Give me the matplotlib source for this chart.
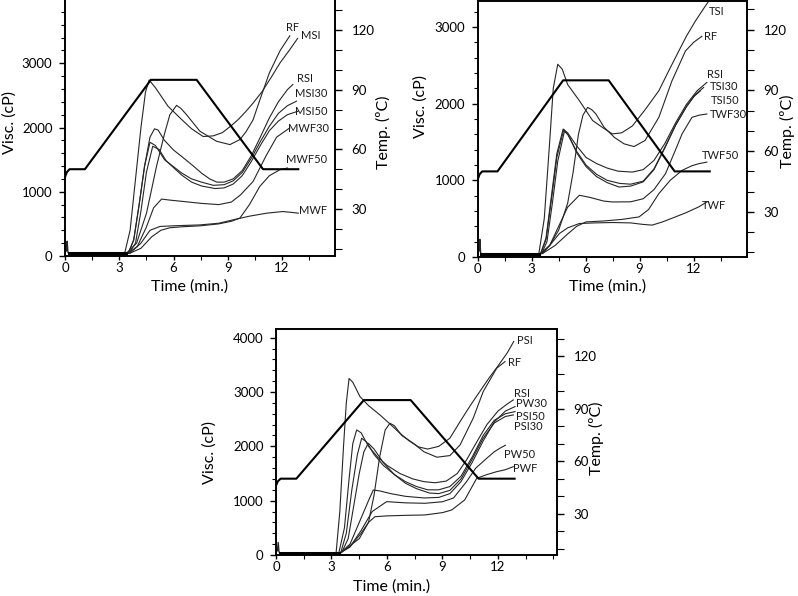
import matplotlib
matplotlib.use("Agg")
import matplotlib.pyplot as plt
from matplotlib.ticker import MultipleLocator

plt.rcParams['font.family'] = ['Lato', 'DejaVu Sans']

# ---------------- temperature profile (shared) ----------------
temp_t = [0, 0.1, 0.25, 1.1, 4.75, 7.28, 10.95, 12.9]
temp_v = [46, 48.5, 50, 50, 95, 95, 50, 50]

# ---------------- Panel 1 (M series) ----------------
p1_names = ["MSI", "RF", "RSI", "MSI30", "MSI50", "MWF30", "MWF50", "MWF"]
p1_msi_t = [0.2, 3.3, 3.6, 3.9, 4.2, 4.45, 4.65, 5.0, 5.7, 6.45, 7.0, 7.64, 8.2, 8.7, 9.2, 9.6, 10.0, 10.4, 10.9, 11.4, 11.9, 12.4, 12.86]
p1_msi_v = [40, 45, 400, 1200, 2000, 2550, 2740, 2620, 2330, 2125, 1980, 1860, 1870, 1920, 2030, 2130, 2250, 2380, 2560, 2780, 3010, 3200, 3386]
p1_rf_t = [0.2, 3.4, 3.96, 4.51, 5.06, 5.5, 5.8, 6.17, 6.4, 6.72, 7.46, 8.38, 9.12, 9.67, 10.0, 10.4, 10.8, 11.3, 11.9, 12.43]
p1_rf_v = [40, 45, 200, 670, 1395, 1900, 2200, 2345, 2300, 2200, 1942, 1786, 1734, 1812, 1930, 2120, 2450, 2850, 3200, 3427]
p1_rsi_t = [0.2, 3.5, 3.8, 4.1, 4.4, 4.7, 4.95, 5.15, 5.5, 6.0, 6.45, 7.1, 7.55, 8.0, 8.4, 8.8, 9.3, 9.8, 10.3, 10.8, 11.3, 11.8, 12.3, 12.6]
p1_rsi_v = [40, 45, 250, 800, 1400, 1850, 1980, 1960, 1800, 1650, 1550, 1400, 1290, 1200, 1150, 1150, 1200, 1330, 1560, 1850, 2150, 2400, 2590, 2670]
p1_msi30_t = [0.2, 3.5, 3.8, 4.1, 4.4, 4.7, 5.0, 5.5, 6.45, 7.0, 7.55, 8.2, 8.8, 9.3, 9.8, 10.3, 10.8, 11.3, 11.8, 12.3, 12.8]
p1_msi30_v = [40, 45, 250, 800, 1400, 1770, 1720, 1500, 1292, 1200, 1150, 1100, 1110, 1170, 1300, 1520, 1780, 2020, 2220, 2340, 2410]
p1_msi50_t = [0.2, 3.55, 3.9, 4.2, 4.5, 4.85, 5.2, 5.6, 6.45, 7.0, 7.55, 8.3, 8.8, 9.3, 9.8, 10.3, 10.8, 11.3, 11.8, 12.3, 12.9]
p1_msi50_v = [40, 45, 200, 700, 1300, 1708, 1660, 1480, 1260, 1150, 1090, 1050, 1060, 1120, 1250, 1470, 1720, 1950, 2100, 2200, 2255]
p1_mwf30_t = [0.2, 3.5, 4.0, 4.5, 4.9, 5.34, 5.8, 6.5, 7.5, 8.5, 9.2, 9.7, 10.4, 11.1, 11.7, 12.43]
p1_mwf30_v = [40, 45, 150, 450, 750, 886, 870, 850, 820, 800, 840, 950, 1160, 1550, 1850, 1995]
p1_mwf50_t = [0.2, 3.6, 4.2, 4.8, 5.3, 5.8, 6.5, 7.5, 8.5, 9.2, 9.67, 10.2, 10.77, 11.3, 11.88, 12.3]
p1_mwf50_v = [40, 45, 120, 300, 400, 440, 455, 470, 500, 540, 590, 800, 1083, 1250, 1343, 1370]
p1_mwf_t = [0.2, 3.6, 4.2, 4.7, 5.25, 6.0, 7.46, 8.5, 9.28, 10.2, 11.16, 12.04, 12.5, 12.9]
p1_mwf_v = [40, 45, 200, 400, 460, 470, 484, 510, 562, 620, 667, 692, 680, 667]
p1_lbl_x = [13.6, 12.6, 13.27, 13.64, 13.64, 13.46, 13.37, 13.73]
p1_lbl_y = [3440, 3560, 2766, 2527, 2255, 1980, 1500, 708]

# ---------------- Panel 2 (T series) ----------------
p2_names = ["TSI", "RF", "RSI", "TSI30", "TSI50", "TWF30", "TWF50", "TWF"]
p2_tsi_t = [0.2, 3.4, 3.7, 4.0, 4.2, 4.45, 4.7, 5.0, 5.65, 6.39, 7.0, 7.49, 8.0, 8.6, 9.3, 10.07, 10.6, 11.18, 11.6, 12.1, 12.65, 12.84]
p2_tsi_v = [40, 45, 500, 1500, 2200, 2515, 2450, 2250, 2040, 1780, 1680, 1606, 1620, 1710, 1920, 2169, 2420, 2688, 2880, 3078, 3273, 3337]
p2_rf_t = [0.2, 3.5, 4.0, 4.5, 5.0, 5.3, 5.6, 5.85, 6.11, 6.35, 6.57, 7.03, 7.6, 8.14, 8.69, 9.3, 10.07, 10.8, 11.55, 12.0, 12.46]
p2_rf_v = [40, 45, 150, 350, 700, 1100, 1600, 1850, 1952, 1920, 1866, 1692, 1560, 1476, 1441, 1520, 1822, 2299, 2688, 2800, 2880]
p2_rsi_t = [0.2, 3.5, 3.8, 4.1, 4.4, 4.75, 5.0, 5.5, 6.02, 6.6, 7.2, 7.8, 8.6, 9.2, 9.8, 10.4, 11.0, 11.6, 12.2, 12.74]
p2_rsi_v = [40, 45, 250, 800, 1350, 1670, 1620, 1450, 1300, 1220, 1160, 1120, 1108, 1140, 1260, 1480, 1750, 1990, 2170, 2277]
p2_tsi30_t = [0.2, 3.5, 3.8, 4.1, 4.4, 4.78, 5.0, 5.5, 6.02, 6.6, 7.2, 7.9, 8.5, 9.2, 9.8, 10.4, 11.0, 11.6, 12.1, 12.56]
p2_tsi30_v = [40, 45, 230, 750, 1300, 1660, 1600, 1380, 1200, 1080, 1000, 960, 950, 990, 1150, 1430, 1720, 1960, 2120, 2212]
p2_tsi50_t = [0.2, 3.55, 3.85, 4.15, 4.45, 4.82, 5.05, 5.5, 6.02, 6.6, 7.2, 7.86, 8.5, 9.2, 9.8, 10.4, 11.0, 11.6, 12.0, 12.38]
p2_tsi50_v = [40, 45, 200, 700, 1250, 1640, 1590, 1360, 1180, 1050, 970, 913, 925, 980, 1140, 1420, 1720, 1960, 2090, 2169]
p2_twf30_t = [0.2, 3.5, 4.0, 4.5, 5.0, 5.65, 6.2, 7.0, 7.49, 8.5, 9.2, 9.8, 10.44, 11.0, 11.36, 11.91, 12.3, 12.74]
p2_twf30_v = [40, 45, 150, 400, 650, 805, 780, 730, 718, 720, 760, 880, 1087, 1400, 1606, 1822, 1850, 1866]
p2_twf50_t = [0.2, 3.6, 4.3, 5.0, 5.5, 6.02, 7.0, 8.0, 8.97, 9.5, 10.07, 10.7, 11.36, 11.9, 12.28, 12.74]
p2_twf50_v = [40, 45, 150, 300, 400, 458, 470, 490, 523, 620, 827, 1000, 1130, 1190, 1217, 1238]
p2_twf_t = [0.2, 3.6, 4.0, 4.55, 5.0, 5.65, 6.5, 7.5, 8.5, 9.2, 9.7, 10.3, 10.99, 11.6, 12.28, 12.74]
p2_twf_v = [40, 45, 150, 308, 380, 437, 445, 450, 445, 425, 416, 460, 523, 580, 653, 718]
p2_lbl_x = [13.3, 12.93, 13.2, 13.67, 13.76, 13.95, 13.48, 13.11]
p2_lbl_y = [3208, 2883, 2386, 2221, 2039, 1857, 1325, 675]

# ---------------- Panel 3 (P series) ----------------
p3_names = ["PSI", "RF", "RSI", "PW30", "PSI50", "PSI30", "PW50", "PWF"]
p3_psi_t = [0.2, 3.25, 3.45, 3.65, 3.8, 3.95, 4.15, 4.54, 5.0, 5.62, 6.2, 6.7, 7.2, 7.7, 8.2, 8.8, 9.4, 9.95, 10.5, 11.0, 11.5, 12.0, 12.5, 12.85]
p3_psi_v = [40, 45, 800, 2000, 2800, 3250, 3180, 2916, 2750, 2578, 2400, 2241, 2100, 1990, 1950, 2000, 2150, 2455, 2750, 3000, 3250, 3480, 3720, 3930]
p3_rf_t = [0.2, 3.5, 4.5, 5.0, 5.3, 5.6, 5.9, 6.16, 6.4, 6.8, 7.42, 8.0, 8.7, 9.4, 9.95, 10.66, 11.2, 11.93, 12.38]
p3_rf_v = [40, 45, 300, 600, 1100, 1800, 2300, 2425, 2380, 2200, 2057, 1900, 1800, 1830, 2026, 2518, 3007, 3438, 3560]
p3_rsi_t = [0.2, 3.4, 3.7, 3.95, 4.15, 4.36, 4.6, 5.0, 5.5, 6.0, 6.7, 7.4, 8.0, 8.6, 9.2, 9.8, 10.3, 10.8, 11.4, 12.0, 12.5, 12.83]
p3_rsi_v = [40, 45, 500, 1400, 2050, 2302, 2250, 2000, 1800, 1650, 1500, 1400, 1350, 1330, 1360, 1500, 1750, 2050, 2400, 2650, 2780, 2855]
p3_pw30_t = [0.2, 3.5, 4.0, 4.5, 5.0, 5.26, 5.6, 6.2, 7.0, 8.0, 8.8, 9.4, 10.0, 10.6, 11.2, 11.8, 12.4, 12.92]
p3_pw30_v = [40, 45, 200, 600, 1000, 1197, 1180, 1130, 1080, 1050, 1060, 1130, 1350, 1700, 2100, 2450, 2650, 2731]
p3_psi50_t = [0.2, 3.5, 3.8, 4.1, 4.4, 4.63, 4.9, 5.3, 5.8, 6.4, 7.0, 7.6, 8.2, 8.8, 9.4, 10.0, 10.6, 11.2, 11.8, 12.4, 12.92]
p3_psi50_v = [40, 45, 400, 1200, 1850, 2149, 2080, 1850, 1650, 1480, 1350, 1260, 1200, 1200, 1260, 1450, 1800, 2200, 2480, 2600, 2639]
p3_psi30_t = [0.2, 3.55, 3.9, 4.2, 4.5, 4.75, 4.99, 5.3, 5.8, 6.4, 7.0, 7.6, 8.3, 8.8, 9.4, 10.0, 10.6, 11.2, 11.8, 12.4, 12.83]
p3_psi30_v = [40, 45, 300, 900, 1500, 1900, 2057, 1950, 1700, 1480, 1320, 1220, 1140, 1130, 1190, 1400, 1760, 2150, 2430, 2550, 2578]
p3_pw50_t = [0.2, 3.5, 4.0, 4.6, 5.2, 5.98, 7.0, 8.05, 9.0, 9.6, 10.3, 10.8, 11.39, 11.8, 12.1, 12.4]
p3_pw50_v = [40, 45, 150, 450, 800, 982, 960, 952, 980, 1050, 1350, 1600, 1780, 1900, 1965, 2020]
p3_pwf_t = [0.2, 3.5, 4.0, 4.6, 5.0, 5.35, 6.0, 7.0, 8.05, 9.0, 9.5, 10.2, 10.85, 11.4, 11.93, 12.4, 12.83]
p3_pwf_v = [40, 45, 150, 400, 600, 705, 720, 730, 737, 780, 829, 1013, 1412, 1480, 1534, 1570, 1626]
p3_lbl_x = [13.46, 12.92, 13.28, 13.82, 13.73, 13.64, 13.19, 13.46]
p3_lbl_y = [3947, 3549, 2978, 2781, 2547, 2363, 1842, 1597]

# start-up spike (all panels)
spike_t = [0.0, 0.08, 0.12, 0.16, 0.2]
spike_v = [60, 80, 230, 60, 40]

W, H = 798, 596
fig = plt.figure(figsize=(W / 100, H / 100), dpi=100)


def px_axes(left, top, right, bottom):
    return fig.add_axes([left / W, 1 - bottom / H, (right - left) / W, (bottom - top) / H])


panels = [
    dict(box=(65, 0, 335, 256), xmax=14.93, ymax=3985, tlim=(6.3, 135.2), top=False,
         curves=[(p1_msi_t, p1_msi_v), (p1_rf_t, p1_rf_v), (p1_rsi_t, p1_rsi_v), (p1_msi30_t, p1_msi30_v),
                 (p1_msi50_t, p1_msi50_v), (p1_mwf30_t, p1_mwf30_v), (p1_mwf50_t, p1_mwf50_v), (p1_mwf_t, p1_mwf_v)],
         names=p1_names, lx=p1_lbl_x, ly=p1_lbl_y,
         visc=(10, 122), time=(190, 287), temp=(383, 132)),
    dict(box=(477.7, 1, 747, 257), xmax=14.97, ymax=3340, tlim=(7.7, 134.2), top=True,
         curves=[(p2_tsi_t, p2_tsi_v), (p2_rf_t, p2_rf_v), (p2_rsi_t, p2_rsi_v), (p2_tsi30_t, p2_tsi30_v),
                 (p2_tsi50_t, p2_tsi50_v), (p2_twf30_t, p2_twf30_v), (p2_twf50_t, p2_twf50_v), (p2_twf_t, p2_twf_v)],
         names=p2_names, lx=p2_lbl_x, ly=p2_lbl_y,
         visc=(421, 107), time=(608, 287), temp=(787, 131)),
    dict(box=(276, 329, 557, 555), xmax=15.19, ymax=4160, tlim=(6.3, 135.7), top=True,
         curves=[(p3_psi_t, p3_psi_v), (p3_rf_t, p3_rf_v), (p3_rsi_t, p3_rsi_v), (p3_pw30_t, p3_pw30_v),
                 (p3_psi50_t, p3_psi50_v), (p3_psi30_t, p3_psi30_v), (p3_pw50_t, p3_pw50_v), (p3_pwf_t, p3_pwf_v)],
         names=p3_names, lx=p3_lbl_x, ly=p3_lbl_y,
         visc=(210, 452), time=(392, 587), temp=(596, 438)),
]

curve_color = "#262626"
for p in panels:
    l, t, r, b = p["box"]
    ax = px_axes(l, t, r, b)
    ax.set_xlim(0, p["xmax"])
    ax.set_ylim(0, p["ymax"])
    for ct, cv in p["curves"]:
        ax.plot(ct, cv, color=curve_color, lw=0.8, zorder=3)
    ax.plot(spike_t, spike_v, color=curve_color, lw=1.0, zorder=3)
    ax.plot([0.2, 3.4], [40, 40], color="black", lw=2.2, zorder=3)
    for name, x, y in zip(p["names"], p["lx"], p["ly"]):
        ax.text(x, y, name, fontsize=8, ha="center", va="center", color="#1a1a1a", zorder=5)

    ax.xaxis.set_major_locator(MultipleLocator(3))
    ax.xaxis.set_minor_locator(MultipleLocator(1.5))
    ax.yaxis.set_major_locator(MultipleLocator(1000))
    ax.yaxis.set_minor_locator(MultipleLocator(200))
    ax.tick_params(axis="both", which="major", direction="out", length=3, width=1.0, labelsize=9.5, pad=1.5)
    ax.tick_params(axis="both", which="minor", direction="out", length=3, width=0.8)
    ax.tick_params(axis="y", which="major", length=4, pad=5)
    ax.set_xticks([0, 3, 6, 9, 12])
    for s in ["left", "bottom", "right", "top"]:
        ax.spines[s].set_linewidth(1.2)
    ax.spines["top"].set_visible(p["top"])
    ax.patch.set_alpha(0)

    ax2 = ax.twinx()
    ax2.set_ylim(*p["tlim"])
    ax2.plot(temp_t, temp_v, color="black", lw=1.5, zorder=4)
    ax2.yaxis.set_major_locator(MultipleLocator(30))
    ax2.yaxis.set_minor_locator(MultipleLocator(10))
    ax2.set_yticks([30, 60, 90, 120])
    ax2.tick_params(axis="y", which="major", direction="out", length=5, width=1.0, labelsize=9.5, pad=7)
    ax2.tick_params(axis="y", which="minor", direction="out", length=5, width=0.8)
    for s in ["left", "bottom", "right", "top"]:
        ax2.spines[s].set_linewidth(1.2)
    ax2.spines["top"].set_visible(p["top"])

    vx, vy = p["visc"]
    fig.text(vx / W, 1 - vy / H, "Visc. (cP)", rotation=90, ha="center", va="center", fontsize=11.5)
    tx, ty = p["time"]
    fig.text(tx / W, 1 - ty / H, "Time (min.)", ha="center", va="center", fontsize=11.5)
    mx, my = p["temp"]
    fig.text(mx / W, 1 - my / H, "Temp. (ºC)", rotation=90, ha="center", va="center", fontsize=11.5)

fig.savefig("out.png", dpi=100)
